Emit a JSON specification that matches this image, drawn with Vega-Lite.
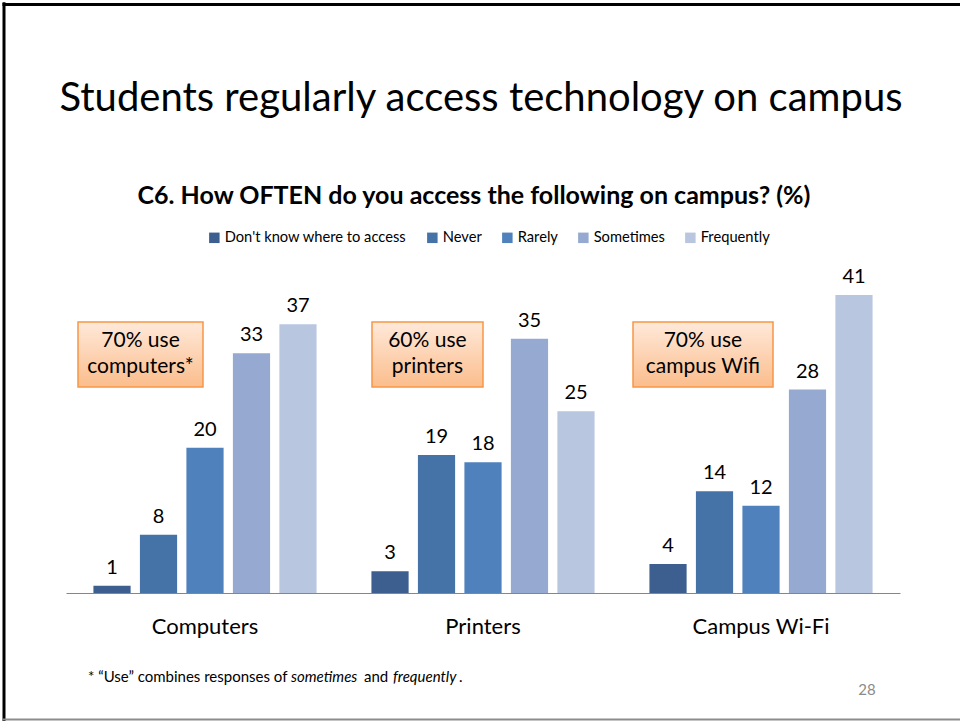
{
  "$schema": "https://vega.github.io/schema/vega-lite/v6.json",
  "autosize": {"type": "none"},
  "width": 834,
  "height": 327,
  "padding": {"left": 66, "top": 266, "right": 60, "bottom": 128},
  "background": "white",
  "datasets": {
    "bars": [
      {"category": "Computers", "response": "Don't know where to access", "value": 1},
      {"category": "Computers", "response": "Never", "value": 8},
      {"category": "Computers", "response": "Rarely", "value": 20},
      {"category": "Computers", "response": "Sometimes", "value": 33},
      {"category": "Computers", "response": "Frequently", "value": 37},
      {"category": "Printers", "response": "Don't know where to access", "value": 3},
      {"category": "Printers", "response": "Never", "value": 19},
      {"category": "Printers", "response": "Rarely", "value": 18},
      {"category": "Printers", "response": "Sometimes", "value": 35},
      {"category": "Printers", "response": "Frequently", "value": 25},
      {"category": "Campus Wi-Fi", "response": "Don't know where to access", "value": 4},
      {"category": "Campus Wi-Fi", "response": "Never", "value": 14},
      {"category": "Campus Wi-Fi", "response": "Rarely", "value": 12},
      {"category": "Campus Wi-Fi", "response": "Sometimes", "value": 28},
      {"category": "Campus Wi-Fi", "response": "Frequently", "value": 41}
    ],
    "titles": [
      {"gx": 1.4928, "gy": 68.0, "t": "Students regularly access technology on campus"}
    ],
    "subtitles": [
      {"gx": 1.4676, "gy": 54.63, "t": "C6. How OFTEN do you access the following on campus? (%)"}
    ],
    "boxes": [
      {"x1": 0.0432, "x2": 0.4928, "y1": 37.29, "y2": 28.35, "cx": 0.268, "cy": 34.68, "label": "70% use\ncomputers*"},
      {"x1": 1.1007, "x2": 1.5, "y1": 37.29, "y2": 28.35, "cx": 1.3, "cy": 34.68, "label": "60% use\nprinters"},
      {"x1": 2.0396, "x2": 2.5432, "y1": 37.29, "y2": 28.35, "cx": 2.291, "cy": 34.68, "label": "70% use\ncampus Wifi"}
    ],
    "notePlain": [
      {"gx": 0.0791, "gy": -11.56, "t": "* “Use” combines responses of"},
      {"gx": 1.0719, "gy": -11.56, "t": "and"},
      {"gx": 1.4137, "gy": -11.56, "t": "."}
    ],
    "noteItalic": [
      {"gx": 0.8094, "gy": -11.56, "t": "sometimes"},
      {"gx": 1.1763, "gy": -11.56, "t": "frequently"}
    ],
    "pagenum": [
      {"gx": 2.8813, "gy": -13.35, "t": "28"}
    ],
    "frameV": [
      {"gx": -0.2230, "gy": 81.3, "gy2": -18.0}
    ],
    "frameTop": [
      {"gx": -0.2284, "gx2": 3.40, "gy": 80.99}
    ],
    "frameBottom": [
      {"gx": -0.2284, "gx2": 3.40, "gy": -17.41}
    ]
  },
  "layer": [
    {
      "data": {"name": "bars"},
      "encoding": {
        "x": {
          "field": "category",
          "type": "nominal",
          "sort": ["Computers", "Printers", "Campus Wi-Fi"],
          "scale": {"paddingInner": 0, "paddingOuter": 0},
          "axis": {
            "title": null,
            "labelAngle": 0,
            "ticks": false,
            "domainColor": "#868686",
            "domainWidth": 1,
            "labelFont": "Lato",
            "labelFontSize": 22,
            "labelColor": "#000000",
            "labelPadding": 23
          }
        },
        "xOffset": {
          "field": "response",
          "type": "nominal",
          "sort": ["Don't know where to access", "Never", "Rarely", "Sometimes", "Frequently"],
          "scale": {"paddingInner": 0.2, "paddingOuter": 0.59}
        },
        "y": {
          "field": "value",
          "type": "quantitative",
          "scale": {"domain": [0, 45], "nice": false, "zero": true},
          "axis": null
        }
      },
      "layer": [
        {
          "mark": {"type": "bar"},
          "encoding": {
            "color": {
              "field": "response",
              "type": "nominal",
              "sort": ["Don't know where to access", "Never", "Rarely", "Sometimes", "Frequently"],
              "scale": {
                "domain": ["Don't know where to access", "Never", "Rarely", "Sometimes", "Frequently"],
                "range": ["#3C5F90", "#4572A7", "#4F81BD", "#95A9D1", "#B9C6E0"]
              },
              "legend": {
                "title": null,
                "orient": "none",
                "direction": "horizontal",
                "legendX": 141,
                "legendY": -36,
                "symbolType": "square",
                "symbolSize": 110,
                "symbolStrokeWidth": 0,
                "labelFont": "Lato",
                "labelFontSize": 14.7,
                "labelColor": "#000000",
                "labelLimit": 300,
                "columnPadding": 18,
                "labelOffset": 3
              }
            }
          }
        },
        {
          "mark": {"type": "text", "font": "Lato", "fontSize": 20, "color": "#000000", "baseline": "alphabetic", "dy": -12},
          "encoding": {"text": {"field": "value", "type": "quantitative"}}
        }
      ]
    },
    {
      "encoding": {},
      "layer": [
        {
          "data": {"name": "boxes"},
          "mark": {
            "type": "rect",
            "stroke": "#F79646",
            "strokeWidth": 1.5,
            "fill": {
              "gradient": "linear",
              "x1": 0, "y1": 0, "x2": 0, "y2": 1,
              "stops": [
                {"offset": 0, "color": "#FFE9DA"},
                {"offset": 1, "color": "#FBBD8C"}
              ]
            }
          },
          "encoding": {
            "x": {"field": "x1", "type": "quantitative", "scale": {"domain": [0, 3], "nice": false, "zero": false}, "axis": null},
            "x2": {"field": "x2"},
            "y": {"field": "y1", "type": "quantitative", "scale": {"domain": [0, 45], "nice": false, "zero": false}, "axis": null},
            "y2": {"field": "y2"}
          }
        },
        {
          "data": {"name": "boxes"},
          "mark": {"type": "text", "font": "Lato", "fontSize": 21, "color": "#000000", "lineBreak": "\n", "lineHeight": 26, "baseline": "middle", "align": "center"},
          "encoding": {
            "x": {"field": "cx", "type": "quantitative", "scale": {"domain": [0, 3], "nice": false, "zero": false}, "axis": null},
            "y": {"field": "cy", "type": "quantitative", "scale": {"domain": [0, 45], "nice": false, "zero": false}, "axis": null},
            "text": {"field": "label", "type": "nominal"}
          }
        },
        {
          "data": {"name": "titles"},
          "mark": {"type": "text", "font": "Lato", "fontSize": 40, "color": "#000000", "align": "center", "baseline": "middle"},
          "encoding": {
            "x": {"field": "gx", "type": "quantitative", "scale": {"domain": [0, 3], "nice": false, "zero": false}, "axis": null},
            "y": {"field": "gy", "type": "quantitative", "scale": {"domain": [0, 45], "nice": false, "zero": false}, "axis": null},
            "text": {"field": "t", "type": "nominal"}
          }
        },
        {
          "data": {"name": "subtitles"},
          "mark": {"type": "text", "font": "Lato", "fontSize": 25, "fontWeight": "bold", "color": "#000000", "align": "center", "baseline": "middle"},
          "encoding": {
            "x": {"field": "gx", "type": "quantitative", "scale": {"domain": [0, 3], "nice": false, "zero": false}, "axis": null},
            "y": {"field": "gy", "type": "quantitative", "scale": {"domain": [0, 45], "nice": false, "zero": false}, "axis": null},
            "text": {"field": "t", "type": "nominal"}
          }
        },
        {
          "data": {"name": "notePlain"},
          "mark": {"type": "text", "font": "Lato", "fontSize": 15, "color": "#000000", "align": "left", "baseline": "middle"},
          "encoding": {
            "x": {"field": "gx", "type": "quantitative", "scale": {"domain": [0, 3], "nice": false, "zero": false}, "axis": null},
            "y": {"field": "gy", "type": "quantitative", "scale": {"domain": [0, 45], "nice": false, "zero": false}, "axis": null},
            "text": {"field": "t", "type": "nominal"}
          }
        },
        {
          "data": {"name": "noteItalic"},
          "mark": {"type": "text", "font": "Lato", "fontSize": 15, "fontStyle": "italic", "color": "#000000", "align": "left", "baseline": "middle"},
          "encoding": {
            "x": {"field": "gx", "type": "quantitative", "scale": {"domain": [0, 3], "nice": false, "zero": false}, "axis": null},
            "y": {"field": "gy", "type": "quantitative", "scale": {"domain": [0, 45], "nice": false, "zero": false}, "axis": null},
            "text": {"field": "t", "type": "nominal"}
          }
        },
        {
          "data": {"name": "pagenum"},
          "mark": {"type": "text", "font": "Lato", "fontSize": 15, "color": "#8B8B8B", "align": "center", "baseline": "middle"},
          "encoding": {
            "x": {"field": "gx", "type": "quantitative", "scale": {"domain": [0, 3], "nice": false, "zero": false}, "axis": null},
            "y": {"field": "gy", "type": "quantitative", "scale": {"domain": [0, 45], "nice": false, "zero": false}, "axis": null},
            "text": {"field": "t", "type": "nominal"}
          }
        },
        {
          "data": {"name": "frameV"},
          "mark": {"type": "rule", "color": "#000000", "strokeWidth": 3},
          "encoding": {
            "x": {"field": "gx", "type": "quantitative", "scale": {"domain": [0, 3], "nice": false, "zero": false}, "axis": null},
            "y": {"field": "gy", "type": "quantitative", "scale": {"domain": [0, 45], "nice": false, "zero": false}, "axis": null},
            "y2": {"field": "gy2"}
          }
        },
        {
          "data": {"name": "frameTop"},
          "mark": {"type": "rule", "color": "#000000", "strokeWidth": 3},
          "encoding": {
            "x": {"field": "gx", "type": "quantitative", "scale": {"domain": [0, 3], "nice": false, "zero": false}, "axis": null},
            "x2": {"field": "gx2"},
            "y": {"field": "gy", "type": "quantitative", "scale": {"domain": [0, 45], "nice": false, "zero": false}, "axis": null}
          }
        },
        {
          "data": {"name": "frameBottom"},
          "mark": {"type": "rule", "color": "#8C8C8C", "strokeWidth": 2},
          "encoding": {
            "x": {"field": "gx", "type": "quantitative", "scale": {"domain": [0, 3], "nice": false, "zero": false}, "axis": null},
            "x2": {"field": "gx2"},
            "y": {"field": "gy", "type": "quantitative", "scale": {"domain": [0, 45], "nice": false, "zero": false}, "axis": null}
          }
        }
      ]
    }
  ],
  "resolve": {"scale": {"x": "independent", "y": "independent", "xOffset": "independent"}, "axis": {"x": "independent", "y": "independent"}},
  "config": {
    "view": {"stroke": null},
    "font": "Lato"
  }
}
